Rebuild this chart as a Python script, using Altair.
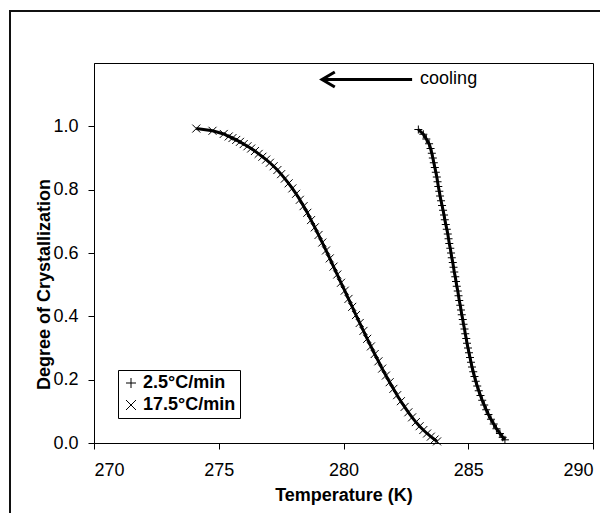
import altair as alt
import pandas as pd

# ---- data ----
series_names = ["2.5°C/min", "17.5°C/min"]

# 17.5 °C/min (x markers)
t_175 = [274.10, 274.75, 275.20, 275.40, 275.55, 275.70, 275.85, 276.00, 276.15, 276.30,
         276.45, 276.60, 276.75, 276.90, 277.05, 277.20, 277.35, 277.50, 277.65, 277.80,
         277.95, 278.10, 278.25, 278.40, 278.55, 278.70, 278.85, 279.00, 279.15, 279.30,
         279.45, 279.60, 279.75, 279.90, 280.05, 280.20, 280.35, 280.50, 280.65, 280.80,
         280.95, 281.10, 281.25, 281.40, 281.55, 281.70, 281.85, 282.00, 282.15, 282.30,
         282.45, 282.60, 282.75, 282.90, 283.05, 283.20, 283.35, 283.50, 283.65, 283.75]
x_175 = [0.993, 0.986, 0.976, 0.968, 0.963, 0.957, 0.951, 0.944, 0.937, 0.930,
         0.922, 0.913, 0.904, 0.895, 0.885, 0.874, 0.862, 0.849, 0.835, 0.820,
         0.804, 0.787, 0.768, 0.748, 0.727, 0.704, 0.681, 0.657, 0.633, 0.608,
         0.583, 0.557, 0.532, 0.506, 0.481, 0.455, 0.430, 0.404, 0.379, 0.354,
         0.329, 0.305, 0.281, 0.258, 0.235, 0.213, 0.192, 0.171, 0.151, 0.132,
         0.114, 0.097, 0.081, 0.066, 0.053, 0.041, 0.030, 0.020, 0.011, 0.005]

# 2.5 °C/min (+ markers)
t_25 = [283.00, 283.20, 283.32, 283.43, 283.49, 283.54, 283.58, 283.62, 283.66, 283.70,
        283.74, 283.77, 283.80, 283.84, 283.87, 283.91, 283.95, 283.99, 284.03, 284.06,
        284.10, 284.14, 284.18, 284.21, 284.24, 284.28, 284.31, 284.34, 284.38, 284.41,
        284.44, 284.48, 284.51, 284.54, 284.58, 284.61, 284.64, 284.68, 284.71, 284.74,
        284.78, 284.81, 284.85, 284.88, 284.92, 284.95, 284.99, 285.03, 285.07, 285.11,
        285.15, 285.20, 285.25, 285.30, 285.36, 285.42, 285.49, 285.56, 285.64, 285.72,
        285.81, 285.91, 286.02, 286.13, 286.27, 286.38, 286.47]
x_25 = [0.990, 0.975, 0.960, 0.945, 0.930, 0.915, 0.900, 0.885, 0.870, 0.855,
        0.840, 0.825, 0.810, 0.795, 0.780, 0.765, 0.750, 0.735, 0.720, 0.705,
        0.690, 0.675, 0.660, 0.645, 0.630, 0.615, 0.600, 0.585, 0.570, 0.555,
        0.540, 0.525, 0.510, 0.495, 0.480, 0.465, 0.450, 0.435, 0.420, 0.405,
        0.390, 0.375, 0.360, 0.345, 0.330, 0.315, 0.300, 0.285, 0.270, 0.255,
        0.240, 0.225, 0.210, 0.195, 0.180, 0.165, 0.150, 0.135, 0.120, 0.105,
        0.090, 0.075, 0.060, 0.045, 0.030, 0.018, 0.010]

x_ticks = [270, 275, 280, 285, 290]
y_ticks = [0.0, 0.2, 0.4, 0.6, 0.8, 1.0]

# annotation ("cooling" arrow)
arrow_T = [279.14, 282.75]
arrow_y = [1.148]
label_T = [283.07]
label_text = ["cooling"]

# ---- tables ----
rows = [{"T": t, "X": v, "series": series_names[0]} for t, v in zip(t_25, x_25)]
rows += [{"T": t, "X": v, "series": series_names[1]} for t, v in zip(t_175, x_175)]
df = pd.DataFrame(rows)

arrow_df = pd.DataFrame({"T": [arrow_T[0]], "T2": [arrow_T[1]], "y": arrow_y})
label_df = pd.DataFrame({"T": label_T, "y": arrow_y, "text": label_text})

PLUS = "M-1,0L1,0M0,-1L0,1"
CROSS = "M-1,-1L1,1M-1,1L1,-1"
CHEVRON = "M1.7,-1L0,0L1.7,1"

FONT = "Liberation Sans"

xs = alt.Scale(domain=[270, 290], nice=False, zero=False)
ys = alt.Scale(domain=[0, 1.2], nice=False)

x_axis = alt.Axis(values=x_ticks, format="d", title="Temperature (K)", tickSize=6,
                  labelPadding=12, titleY=43, titleBaseline="top", grid=False)
y_axis = alt.Axis(values=y_ticks, format=".1f", title="Degree of Crystallization",
                  tickSize=6, labelPadding=10, titleX=-45, titleY=221, titleAngle=270,
                  titleBaseline="alphabetic", titleAlign="center", grid=False)

X = alt.X("T:Q", scale=xs, axis=x_axis)
Y = alt.Y("X:Q", scale=ys, axis=y_axis)

border = alt.Chart(pd.DataFrame({"a": [0]})).mark_rect(
    fillOpacity=0, stroke="#111111", strokeWidth=2
).encode(x=alt.value(-84), x2=alt.value(700), y=alt.value(-52), y2=alt.value(700))

lines = alt.Chart(df).mark_line(color="black", strokeWidth=3).encode(
    x=X, y=Y, detail="series:N", order="T:Q"
)

points = alt.Chart(df).mark_point(filled=False, color="black", strokeWidth=1, size=64, opacity=1).encode(
    x=X, y=Y,
    shape=alt.Shape(
        "series:N",
        scale=alt.Scale(domain=series_names, range=[PLUS, CROSS]),
        legend=alt.Legend(
            title=None, orient="none", legendX=24, legendY=307,
            strokeColor="black", fillColor="white", padding=4,
            labelFont=FONT, labelFontSize=18, labelFontWeight="bold", labelColor="black",
            symbolSize=100, symbolStrokeColor="black", symbolStrokeWidth=1,
            rowPadding=4, labelOffset=3, cornerRadius=0,
        ),
    ),
)

arrow_line = alt.Chart(arrow_df).mark_rule(color="black", strokeWidth=3).encode(
    x=alt.X("T:Q", scale=xs, axis=x_axis), x2="T2:Q", y=alt.Y("y:Q", scale=ys, axis=y_axis)
)
arrow_head = alt.Chart(arrow_df).mark_point(
    shape=CHEVRON, filled=False, color="black", strokeWidth=3, size=225, opacity=1
).encode(x=alt.X("T:Q", scale=xs, axis=x_axis), y=alt.Y("y:Q", scale=ys, axis=y_axis))
arrow_text = alt.Chart(label_df).mark_text(
    align="left", baseline="middle", fontSize=18, font=FONT, color="black"
).encode(x=alt.X("T:Q", scale=xs, axis=x_axis), y=alt.Y("y:Q", scale=ys, axis=y_axis), text="text:N")

chart = alt.layer(border, lines, points, arrow_line, arrow_head, arrow_text).properties(
    width=499, height=380,
    autosize=alt.AutoSizeParams(type="none"),
    padding={"left": 86, "top": 55, "right": 7, "bottom": 70},
).configure(font=FONT).configure_view(
    stroke="black", strokeWidth=1
).configure_axis(
    domainColor="black", tickColor="black", labelColor="black", titleColor="black",
    labelFont=FONT, titleFont=FONT, labelFontSize=18, titleFontSize=18,
    titleFontWeight="bold", domainWidth=1, tickWidth=1,
)

chart.save("out.html", embed_options={"renderer": "svg", "actions": False})
